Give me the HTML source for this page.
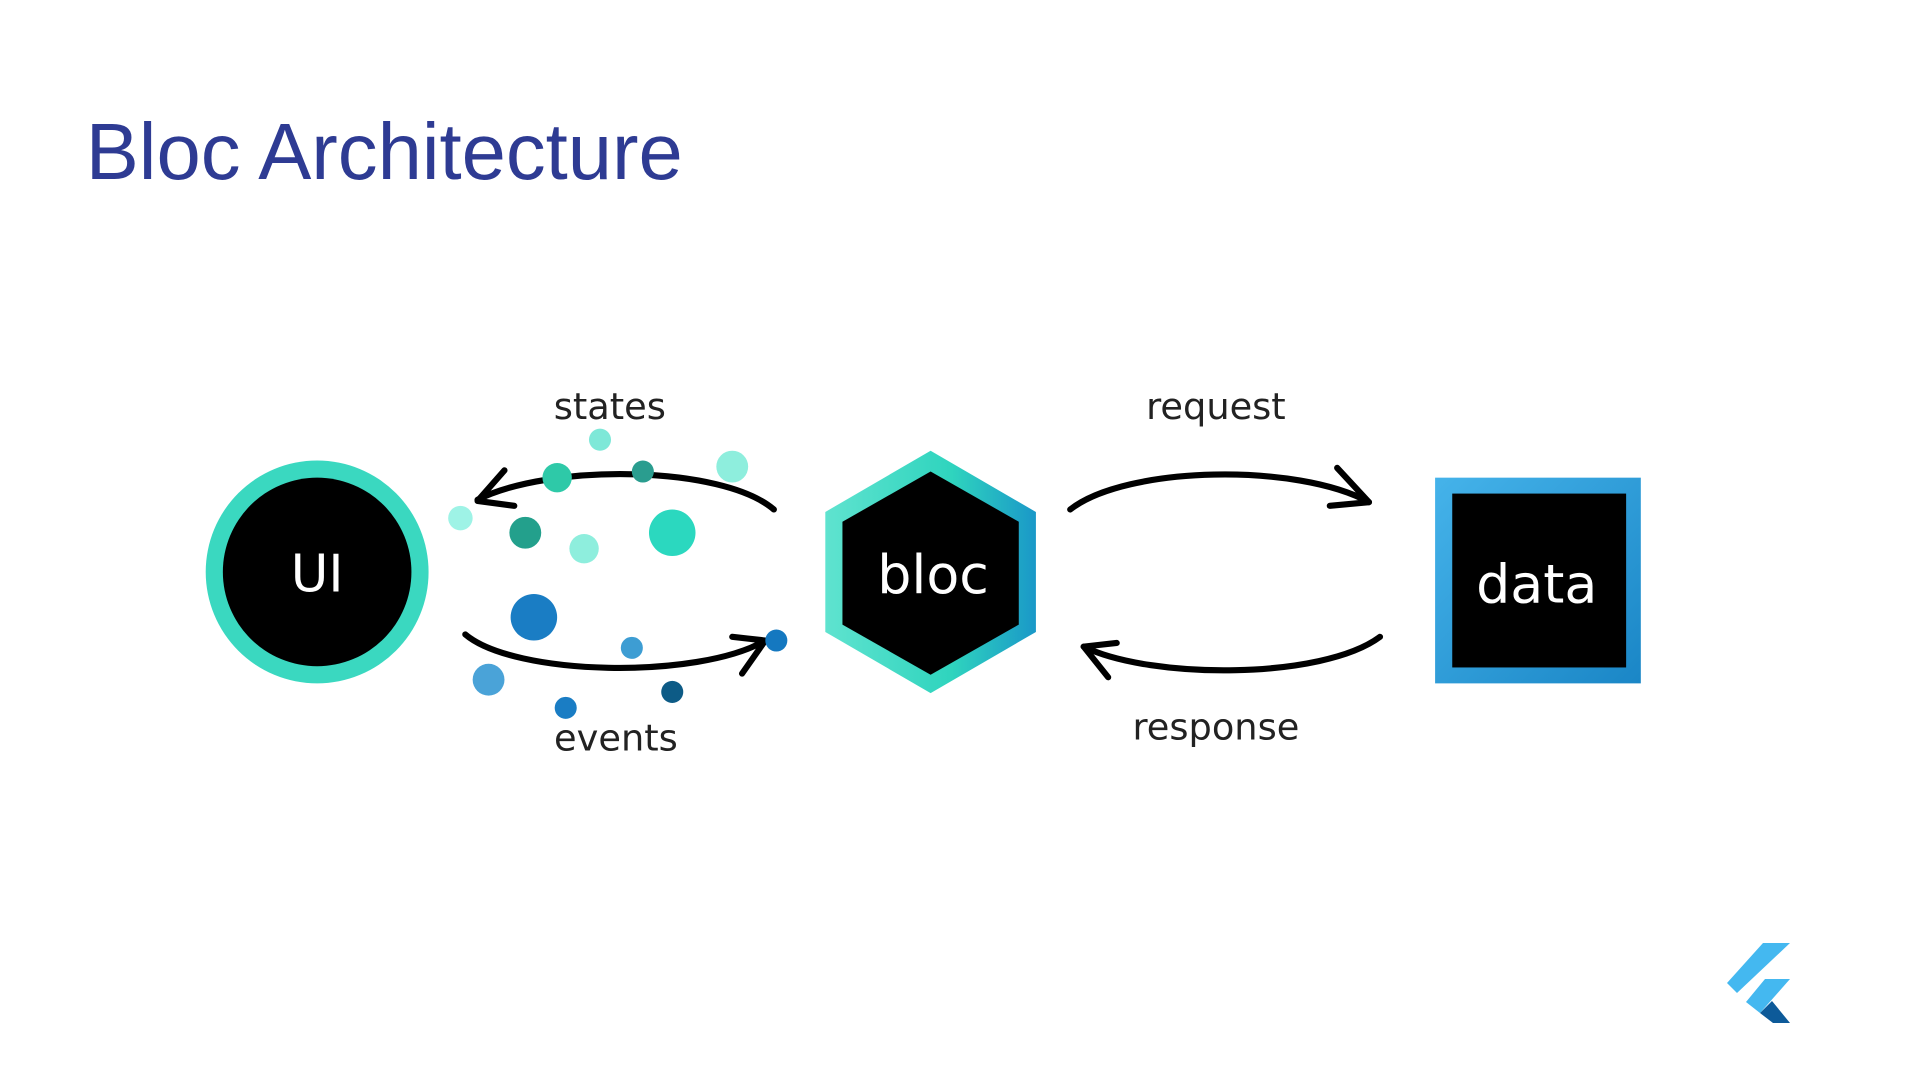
<!DOCTYPE html>
<html><head><meta charset="utf-8"><style>
html,body{margin:0;padding:0;background:#fff;width:1920px;height:1079px;overflow:hidden}
svg{position:absolute;left:0;top:0}
</style></head><body>
<svg width="1920" height="1079" viewBox="0 0 1568 881" xmlns="http://www.w3.org/2000/svg">
<defs>
<linearGradient id="hx" x1="0" y1="0" x2="1" y2="0">
<stop offset="0" stop-color="#5fe3cf"/><stop offset="0.6" stop-color="#2fd4be"/><stop offset="1" stop-color="#1a98c8"/>
</linearGradient>
<linearGradient id="sq" x1="0" y1="0" x2="1" y2="1">
<stop offset="0" stop-color="#45b3ea"/><stop offset="1" stop-color="#1a86c6"/>
</linearGradient>
</defs>
<text x="70" y="146" font-family="Liberation Sans, sans-serif" font-size="65" fill="#2e3b93">Bloc Architecture</text>

<circle cx="259" cy="467" r="91" fill="#3ad8c0"/>
<circle cx="259" cy="467" r="77" fill="#000"/>
<text x="259" y="483" text-anchor="middle" font-family="DejaVu Sans, sans-serif" font-size="42" fill="#fff">UI</text>

<polygon points="760,368 846,418 846,516 760,566 674,516 674,418" fill="url(#hx)"/>
<polygon points="760,385 832,426 832,510 760,551 688,510 688,426" fill="#000"/>
<text x="762" y="484" text-anchor="middle" font-family="DejaVu Sans, sans-serif" font-size="44" fill="#fff">bloc</text>

<rect x="1172" y="390" width="168" height="168" fill="url(#sq)"/>
<rect x="1186" y="403" width="142" height="142" fill="#000"/>
<text x="1255" y="492" text-anchor="middle" font-family="DejaVu Sans, sans-serif" font-size="44" fill="#fff">data</text>

<g font-family="DejaVu Sans, sans-serif" font-size="30" fill="#222" text-anchor="middle">
<text x="498" y="342">states</text>
<text x="993" y="342">request</text>
<text x="503" y="613">events</text>
<text x="993" y="604">response</text>
</g>

<g fill="none" stroke="#000" stroke-width="5" stroke-linecap="round" stroke-linejoin="round">
<path d="M632,416 C590,380 450,378 390,408"/>
<path d="M412,384 L390,409 L420,413"/>
<path d="M874,416 C920,380 1060,378 1118,410"/>
<path d="M1092,382 L1118,410 L1086,413"/>
<path d="M380,518 C420,552 570,555 625,523"/>
<path d="M598,520 L625,523 L606,550"/>
<path d="M1127,520 C1080,555 940,555 885,528"/>
<path d="M912,525 L885,528 L905,553"/>
</g>

<circle cx="490" cy="359" r="9" fill="#7ee8d8"/>
<circle cx="455" cy="390" r="12" fill="#2ec9a8"/>
<circle cx="525" cy="385" r="9" fill="#2a9d8f"/>
<circle cx="598" cy="381" r="13" fill="#8eeedd"/>
<circle cx="376" cy="423" r="10" fill="#9ef3e6"/>
<circle cx="429" cy="435" r="13" fill="#23a08c"/>
<circle cx="477" cy="448" r="12" fill="#8eeedd"/>
<circle cx="549" cy="435" r="19" fill="#2bd8bf"/>
<circle cx="436" cy="504" r="19" fill="#1a7dc4"/>
<circle cx="516" cy="529" r="9" fill="#3d9dd3"/>
<circle cx="634" cy="523" r="9" fill="#1478c0"/>
<circle cx="399" cy="555" r="13" fill="#4aa3d8"/>
<circle cx="462" cy="578" r="9" fill="#1a7dc4"/>
<circle cx="549" cy="565" r="9" fill="#0d5b86"/>
</svg>
<svg width="1920" height="1079" viewBox="0 0 1920 1079" xmlns="http://www.w3.org/2000/svg">
<polygon points="1763,943 1790,943 1737,993 1727,983" fill="#44b8f0"/>
<polygon points="1765,979 1790,979 1760,1013 1746,1002" fill="#44b8f0"/>
<polygon points="1760,1013 1772,1001 1790,1023 1773,1023" fill="#0d5a99"/>
</svg>
</body></html>
